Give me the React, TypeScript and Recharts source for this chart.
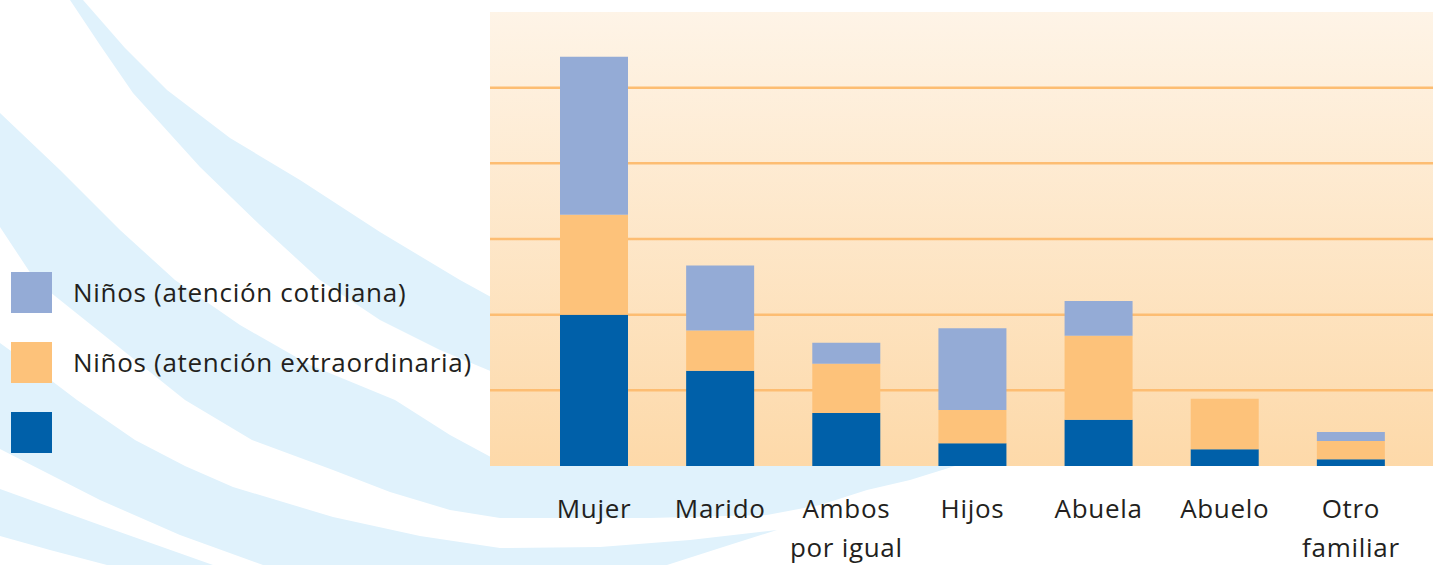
import React from "react";
import { BarChart, Bar, XAxis, YAxis, CartesianGrid } from "recharts";

// categories (a line break splits a tick label in two)
const categories = [
  "Mujer",
  "Marido",
  "Ambos\npor igual",
  "Hijos",
  "Abuela",
  "Abuelo",
  "Otro\nfamiliar",
];

// series values (one grid step = 10)
const principal = [20.0, 12.6, 7.0, 3.0, 6.1, 2.2, 0.9];
const extraordinaria = [13.2, 5.3, 6.5, 4.4, 11.1, 6.7, 2.4];
const cotidiana = [20.9, 8.6, 2.8, 10.8, 4.6, 0, 1.2];

const gridTicks = [10, 20, 30, 40, 50];

const series = [
  { key: "cotidiana", name: "Niños (atención cotidiana)", color: "#94abd6" },
  { key: "extraordinaria", name: "Niños (atención extraordinaria)", color: "#fdc27a" },
  { key: "principal", name: "", color: "#0060a9" },
];

const data = categories.map((name, i) => ({
  name,
  principal: principal[i],
  extraordinaria: extraordinaria[i],
  cotidiana: cotidiana[i],
}));

const FONT = "'Open Sans', Lato, sans-serif";
const INK = "#231f20";
const SWIRL = "#e0f2fc";

function CategoryTick(props: any) {
  const { x, y, payload } = props;
  const lines = String(payload.value).split("\n");
  return (
    <text
      x={x}
      y={y}
      textAnchor="middle"
      fill={INK}
      fontSize={26}
      fontFamily={FONT}
      letterSpacing={0.7}
    >
      {lines.map((line, i) => (
        <tspan key={i} x={x} dy={i === 0 ? 52 : 39}>
          {line}
        </tspan>
      ))}
    </text>
  );
}

// decorative light blue swirls behind everything
function Swirls() {
  const bands = [
    "M83,0 L125,48 L167,90 L230,138 L300,180 L380,232 L460,280 L500,302 L500,375 L440,350 L380,320 L320,280 L260,225 L200,167 L133,93 L100,45 L70,0 Z",
    "M0,113 L60,170 L120,230 L175,280 L240,325 L310,365 L395,400 L450,435 L500,462 L960,462 L955,466 L910,480 L867,490 L820,505 L767,515 L650,518 L500,518 L450,510 L390,492 L333,470 L252,440 L185,400 L110,340 L35,280 L0,227 Z",
    "M0,343 L40,372 L77,400 L135,440 L185,466 L233,487 L333,517 L420,536 L500,548 L600,547 L690,540 L777,530 L720,548 L667,565 L263,565 L180,535 L100,500 L0,449 Z",
    "M0,489 L100,525 L213,565 L107,565 L50,550 L0,536 Z",
  ];
  return (
    <svg width={1433} height={565} style={{ position: "absolute", left: 0, top: 0 }}>
      {bands.map((d, i) => (
        <path key={i} d={d} fill={SWIRL} />
      ))}
    </svg>
  );
}

export default function App() {
  return (
    <div
      style={{
        position: "absolute",
        left: 0,
        top: 0,
        width: 1433,
        height: 565,
        background: "#ffffff",
        overflow: "hidden",
      }}
    >
      <Swirls />

      <div style={{ position: "absolute", left: 0, top: 0 }}>
        <BarChart
          width={1433}
          height={565}
          data={data}
          margin={{ top: 12, right: 0, left: 490, bottom: 0 }}
          barCategoryGap={0}
        >
          <defs>
            <linearGradient id="plotBg" x1="0" y1="0" x2="0" y2="1">
              <stop offset="0%" stopColor="#fef4e7" />
              <stop offset="100%" stopColor="#fdd9a9" />
            </linearGradient>
          </defs>
          <CartesianGrid
            vertical={false}
            fill="url(#plotBg)"
            fillOpacity={1}
            stroke="#fdbd72"
            strokeWidth={2.5}
            horizontalValues={gridTicks}
          />
          <XAxis
            dataKey="name"
            axisLine={false}
            tickLine={false}
            tickSize={0}
            tickMargin={0}
            height={99}
            interval={0}
            padding={{ left: 41, right: 19 }}
            tick={<CategoryTick />}
          />
          <YAxis hide domain={[0, 60]} ticks={gridTicks} />
          <Bar dataKey="principal" stackId="a" fill="#0060a9" barSize={68} isAnimationActive={false} />
          <Bar dataKey="extraordinaria" stackId="a" fill="#fdc27a" barSize={68} isAnimationActive={false} />
          <Bar dataKey="cotidiana" stackId="a" fill="#94abd6" barSize={68} isAnimationActive={false} />
        </BarChart>
      </div>

      {series.map((s, i) => (
        <div
          key={s.key}
          style={{
            position: "absolute",
            left: 11,
            top: 272 + i * 70,
            height: 41,
            display: "flex",
            alignItems: "center",
          }}
        >
          <div style={{ width: 41, height: 41, background: s.color }} />
          <span
            style={{
              marginLeft: 21,
              fontFamily: FONT,
              fontSize: 26,
              letterSpacing: 0.7,
              color: INK,
              whiteSpace: "nowrap",
              lineHeight: "41px",
            }}
          >
            {s.name}
          </span>
        </div>
      ))}
    </div>
  );
}
